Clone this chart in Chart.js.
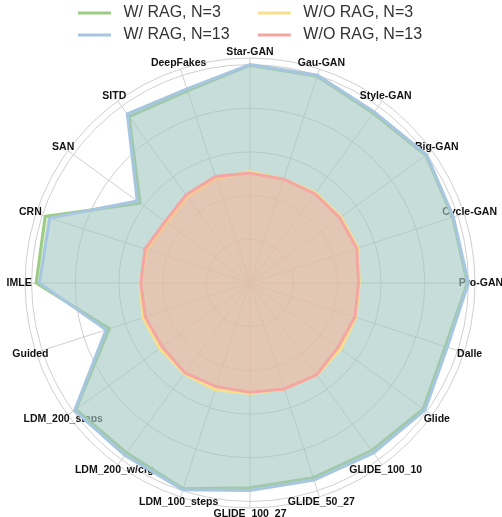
<!DOCTYPE html>
<html>
<head>
<meta charset="utf-8">
<script src="https://cdn.jsdelivr.net/npm/chart.js@4/dist/chart.umd.min.js"></script>
<style>
  html, body { margin: 0; padding: 0; background: #fff; }
  #wrap { width: 502px; height: 517px; }
</style>
</head>
<body>
<div id="wrap"><canvas id="radar" width="502" height="517"></canvas></div>
<script>
// Detector categories, clockwise from the top
const categories = [
  'Star-GAN', 'Gau-GAN', 'Style-GAN', 'Big-GAN', 'Cycle-GAN', 'Pro-GAN',
  'Dalle', 'Glide', 'GLIDE_100_10', 'GLIDE_50_27', 'GLIDE_100_27',
  'LDM_100_steps', 'LDM_200_w/cfg', 'LDM_200_steps', 'Guided', 'IMLE',
  'CRN', 'SAN', 'SITD', 'DeepFakes'
];

const withRagN3 = [99.7, 99.5, 96.0, 99.5, 97.5, 99.5, 94.0, 98.0, 94.8, 93.7,
                   93.7, 99.0, 96.1, 98.5, 67.7, 97.9, 98.6, 62.2, 94.1, 92.5];
const withRagN13 = [100, 100, 96.8, 99.9, 97.9, 100, 95.0, 99.0, 96.2, 94.9,
                    95.0, 99.5, 97.5, 99.3, 69.3, 96.4, 96.4, 63.8, 95.6, 93.4];
const withoutRagN3 = [51.0, 50.0, 51.0, 51.5, 52.0, 50.0, 51.0, 51.4, 52.0, 51.0,
                      50.6, 51.4, 51.3, 51.0, 51.5, 50.3, 49.6, 47.0, 48.7, 50.2];
const withoutRagN13 = [50.3, 50.0, 50.5, 50.8, 51.4, 49.7, 50.5, 49.9, 51.9, 51.0,
                       50.0, 49.9, 50.8, 49.7, 50.4, 50.0, 50.5, 48.0, 49.9, 51.3];

// Radial grid rings (value 0 is the centre)
const radialTicks = [0, 20, 40, 60, 80, 100, 103];
const radialMax = 103;
const labelRadiusValue = 105.7;

const seriesNames = ['W/ RAG, N=3', 'W/ RAG, N=13', 'W/O RAG, N=3', 'W/O RAG, N=13'];

const FONT = '"Liberation Sans", Arial, Helvetica, sans-serif';

// Category names centred just outside the outer ring, under the data fill
const categoryLabels = {
  id: 'categoryLabels',
  beforeDatasetsDraw(chart) {
    const scale = chart.scales.r;
    const ctx = chart.ctx;
    ctx.save();
    ctx.font = 'bold 10.5px ' + FONT;
    ctx.fillStyle = '#111';
    ctx.textAlign = 'center';
    ctx.textBaseline = 'middle';
    categories.forEach((name, i) => {
      const p = scale.getPointPositionForValue(i, labelRadiusValue);
      ctx.fillText(name, p.x, p.y);
    });
    ctx.restore();
  }
};

// Legend laid out as two aligned columns
const legendRank = [0, 2, 1, 3];
const legendText = [
  ' W/ RAG, N=3       ',
  ' W/ RAG, N=13     ',
  ' W/O RAG, N=3  ',
  ' W/O RAG, N=13'
];

new Chart(document.getElementById('radar'), {
  type: 'radar',
  data: {
    labels: categories,
    datasets: [
      {
        label: seriesNames[0], data: withRagN3, order: 4,
        borderColor: '#9ccc84', backgroundColor: 'rgba(156,204,132,0.35)',
        borderWidth: 3, pointRadius: 0, fill: true
      },
      {
        label: seriesNames[1], data: withRagN13, order: 3,
        borderColor: '#a7c6e0', backgroundColor: 'rgba(167,198,224,0.42)',
        borderWidth: 3, pointRadius: 0, fill: true
      },
      {
        label: seriesNames[2], data: withoutRagN3, order: 2,
        borderColor: '#f6e08e', backgroundColor: 'rgba(246,224,142,0.35)',
        borderWidth: 3, pointRadius: 0, fill: true
      },
      {
        label: seriesNames[3], data: withoutRagN13, order: 1,
        borderColor: '#f4a6a3', backgroundColor: 'rgba(244,166,163,0.40)',
        borderWidth: 3, pointRadius: 0, fill: true
      }
    ]
  },
  options: {
    responsive: false,
    animation: false,
    layout: { padding: { top: -1, left: 25, right: 27, bottom: 4 } },
    elements: { line: { tension: 0, borderJoinStyle: 'miter' } },
    scales: {
      r: {
        min: 0,
        max: radialMax,
        afterBuildTicks(scale) {
          scale.ticks = radialTicks.map(v => ({ value: v }));
        },
        ticks: { display: false },
        grid: { circular: true, color: '#cfcfcf', lineWidth: 1 },
        angleLines: { display: true, color: '#cfcfcf', lineWidth: 1 },
        pointLabels: { display: false }
      }
    },
    plugins: {
      tooltip: { enabled: false },
      legend: {
        position: 'top',
        align: 'center',
        labels: {
          font: { family: FONT, size: 16 },
          color: '#333',
          boxWidth: 33,
          boxHeight: 3,
          padding: 6,
          sort: (a, b) => legendRank[a.datasetIndex] - legendRank[b.datasetIndex],
          generateLabels(chart) {
            return chart.data.datasets.map((ds, i) => ({
              text: legendText[i],
              fillStyle: ds.borderColor,
              strokeStyle: ds.borderColor,
              lineWidth: 0,
              hidden: false,
              datasetIndex: i,
              fontColor: '#333'
            }));
          }
        }
      }
    }
  },
  plugins: [categoryLabels]
});
</script>
</body>
</html>
